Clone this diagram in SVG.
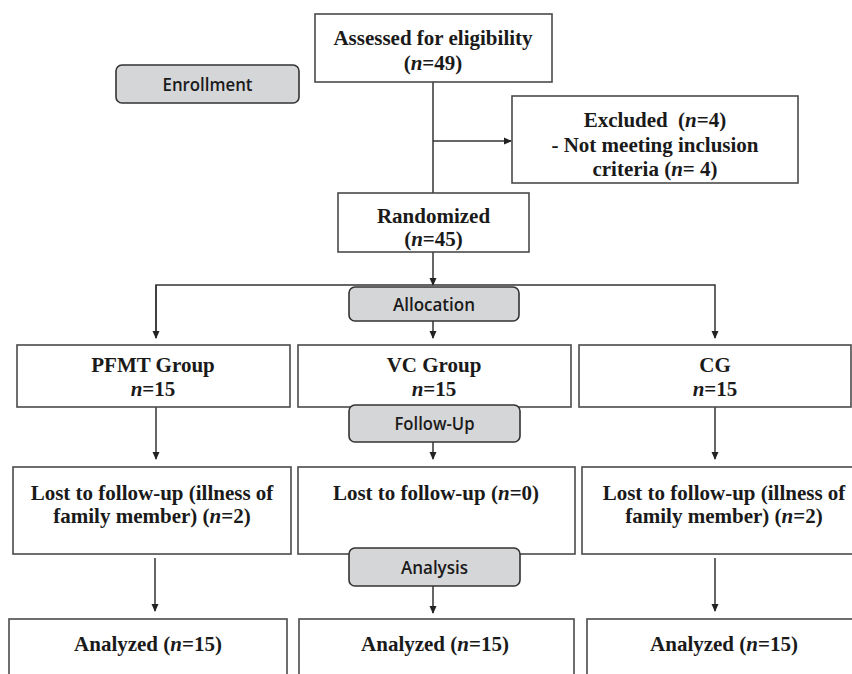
<svg xmlns="http://www.w3.org/2000/svg" width="852" height="674" viewBox="0 0 852 674">
<style>
.box{fill:#fff;stroke:#4a4a4a;stroke-width:1.6}
.stage{fill:#d5d6d8;stroke:#333;stroke-width:1.6}
.ln{fill:none;stroke:#333;stroke-width:1.5}
.t{font-family:"Liberation Serif","Times New Roman",serif;font-weight:bold;font-size:21px;fill:#1a1a1a;text-anchor:middle}
.s{font-family:"Open Sans","Noto Sans",sans-serif;font-weight:600;font-size:18px;fill:#1a1a1a;text-anchor:middle}
.i{font-style:italic}
</style>
<defs>
<marker id="ah" markerWidth="8" markerHeight="8" refX="7" refY="4" orient="auto" markerUnits="userSpaceOnUse">
<path d="M0,0.5 L8,4 L0,7.5 Z" fill="#222"/>
</marker>
</defs>
<g id="connectors">
<path class="ln" d="M433,82 V193"/>
<path class="ln" d="M433,141 H511" marker-end="url(#ah)"/>
<path class="ln" d="M433,252 V285" marker-end="url(#ah)"/>
<path class="ln" d="M156,338 V285 H715 V338" marker-end="url(#ah)"/>
<path class="ln" d="M156,285 V338" marker-end="url(#ah)"/>
<path class="ln" d="M433,321 V338" marker-end="url(#ah)"/>
<path class="ln" d="M156,407 V459" marker-end="url(#ah)"/>
<path class="ln" d="M715,407 V459" marker-end="url(#ah)"/>
<path class="ln" d="M433,442 V459" marker-end="url(#ah)"/>
<path class="ln" d="M155,558 V611" marker-end="url(#ah)"/>
<path class="ln" d="M715,558 V611" marker-end="url(#ah)"/>
<path class="ln" d="M433,586 V613" marker-end="url(#ah)"/>
</g>
<g id="enrollment"><rect class="stage" x="116" y="65" width="183" height="38" rx="6"/><text class="s" x="207.5" y="90.5" textLength="90" lengthAdjust="spacingAndGlyphs">Enrollment</text></g>
<g id="assessed"><rect class="box" x="315" y="14" width="237" height="68"/><text class="t" x="433" y="45">Assessed for eligibility</text><text class="t" x="433" y="70">(<tspan class="i">n</tspan>=49)</text></g>
<g id="excluded"><rect class="box" x="512" y="96" width="286" height="87"/><text class="t" x="655" y="127">Excluded <tspan dx="5">(</tspan><tspan class="i">n</tspan>=4)</text><text class="t" x="655" y="152">- Not meeting inclusion</text><text class="t" x="655" y="176">criteria (<tspan class="i">n</tspan>= 4)</text></g>
<g id="randomized"><rect class="box" x="338" y="193" width="191" height="59"/><text class="t" x="433.5" y="223">Randomized</text><text class="t" x="433.5" y="246">(<tspan class="i">n</tspan>=45)</text></g>
<g id="pfmt"><rect class="box" x="17" y="345" width="273" height="62"/><text class="t" x="153" y="372">PFMT Group</text><text class="t" x="153" y="396"><tspan class="i">n</tspan>=15</text></g>
<g id="vc"><rect class="box" x="298" y="345" width="273" height="62"/><text class="t" x="434" y="372">VC Group</text><text class="t" x="434" y="396"><tspan class="i">n</tspan>=15</text></g>
<g id="cg"><rect class="box" x="579" y="345" width="272" height="62"/><text class="t" x="715" y="372">CG</text><text class="t" x="715" y="396"><tspan class="i">n</tspan>=15</text></g>
<g id="allocation"><rect class="stage" x="349" y="287" width="170" height="34" rx="6"/><text class="s" x="434" y="310.5" textLength="82" lengthAdjust="spacingAndGlyphs">Allocation</text></g>
<g id="followup"><rect class="stage" x="349" y="405" width="171" height="37" rx="6"/><text class="s" x="434.5" y="430" textLength="80" lengthAdjust="spacingAndGlyphs">Follow-Up</text></g>
<g id="lost-pfmt"><rect class="box" x="13" y="467" width="278" height="87"/><text class="t" x="152" y="500">Lost to follow-up (illness of</text><text class="t" x="152" y="523">family member) (<tspan class="i">n</tspan>=2)</text></g>
<g id="lost-vc"><rect class="box" x="298" y="467" width="277" height="87"/><text class="t" x="436" y="500">Lost to follow-up (<tspan class="i">n</tspan>=0)</text></g>
<g id="lost-cg"><rect class="box" x="582" y="467" width="283" height="87"/><text class="t" x="724" y="500">Lost to follow-up (illness of</text><text class="t" x="724" y="523">family member) (<tspan class="i">n</tspan>=2)</text></g>
<g id="analysis"><rect class="stage" x="349" y="548" width="171" height="38" rx="6"/><text class="s" x="434.5" y="573.5" textLength="67" lengthAdjust="spacingAndGlyphs">Analysis</text></g>
<g id="analyzed-pfmt"><rect class="box" x="9" y="619" width="278" height="70"/><text class="t" x="148" y="651">Analyzed (<tspan class="i">n</tspan>=15)</text></g>
<g id="analyzed-vc"><rect class="box" x="299" y="619" width="275" height="70"/><text class="t" x="435" y="651">Analyzed (<tspan class="i">n</tspan>=15)</text></g>
<g id="analyzed-cg"><rect class="box" x="587" y="619" width="280" height="70"/><text class="t" x="724" y="651">Analyzed (<tspan class="i">n</tspan>=15)</text></g>
</svg>
